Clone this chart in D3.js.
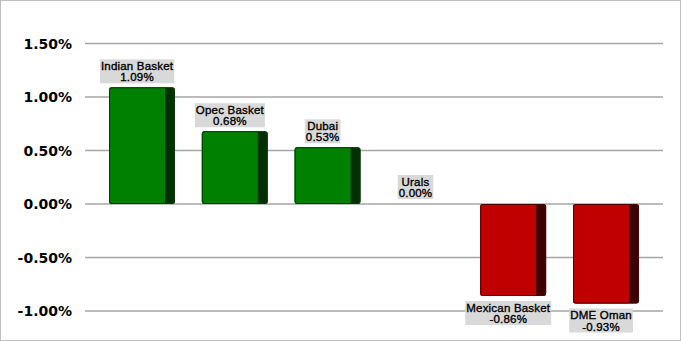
<!DOCTYPE html>
<html><head><meta charset="utf-8">
<script src="https://cdn.jsdelivr.net/npm/d3@7"></script>
<style>body{margin:0;background:#fff}svg{display:block}</style>
</head><body>
<svg id="c" width="681" height="341"></svg>
<script>
const categories = ["Indian Basket","Opec Basket","Dubai","Urals","Mexican Basket","DME  Oman"];
const values = [1.09, 0.68, 0.53, 0.00, -0.86, -0.93];
const tickValues = [-1.0, -0.5, 0.0, 0.5, 1.0, 1.5];

const pct = v => d3.format(".2f")(v).replace("\u2212","-") + "%";

const svg = d3.select("#c");
svg.append("rect").attr("x",0.5).attr("y",0.5).attr("width",680).attr("height",340)
  .attr("fill","#fff").attr("stroke","#bfbfbf");

const y = d3.scaleLinear().domain([-1, 1.5]).range([311, 43.5]);
const x = d3.scaleBand().domain(categories).range([95.6, 652.4]).paddingInner(0.29).paddingOuter(0.145);

// grid
svg.append("g").selectAll("line").data(tickValues).join("line")
  .attr("x1",85).attr("x2",663).attr("y1",d=>y(d)).attr("y2",d=>y(d))
  .attr("stroke","#a6a6a6").attr("stroke-width",1.3);

// y tick labels
svg.append("g").selectAll("text").data(tickValues).join("text")
  .attr("x",72).attr("y",d=>y(d)).attr("dy","0.36em").attr("text-anchor","end")
  .attr("font-family","DejaVu Sans, Verdana, sans-serif").attr("font-weight","bold")
  .attr("font-size",14).attr("fill","#000")
  .text(d=>pct(d));

const data = categories.map((c,i)=>({c, v: values[i]}));
const bw = x.bandwidth();
const fw = bw*0.85;

const bars = svg.append("g").selectAll("g").data(data.filter(d=>d.v!==0)).join("g");
bars.append("rect")
  .attr("x",d=>x(d.c)).attr("width",bw)
  .attr("y",d=>Math.min(y(d.v),y(0))).attr("height",d=>Math.abs(y(d.v)-y(0)))
  .attr("rx",2.5)
  .attr("fill",d=>d.v>0?"#003000":"#3c0000");
bars.append("rect")
  .attr("x",d=>x(d.c)).attr("width",fw)
  .attr("y",d=>Math.min(y(d.v),y(0))).attr("height",d=>Math.abs(y(d.v)-y(0)))
  .attr("rx",2)
  .attr("fill",d=>d.v>0?"#008000":"#c00000");
bars.append("rect")
  .attr("x",d=>x(d.c)+0.5).attr("width",bw-1)
  .attr("y",d=>Math.min(y(d.v),y(0))+0.5).attr("height",d=>Math.abs(y(d.v)-y(0))-1)
  .attr("rx",2.5).attr("fill","none")
  .attr("stroke",d=>d.v>0?"#004000":"#500000").attr("stroke-width",1);

// labels
const lg = svg.append("g").selectAll("g").data(data).join("g");
lg.each(function(d){
  const g = d3.select(this);
  const cx = x(d.c) + fw/2;
  const mk = s => g.append("text").attr("text-anchor","middle").attr("x",cx)
    .attr("font-family","Liberation Sans, Arial, sans-serif").attr("font-size",11.5)
    .attr("fill","#000").attr("stroke","#000").attr("stroke-width",0.35)
    .attr("letter-spacing",0.2).text(s);
  const t1 = mk(d.c);
  const t2 = mk(pct(d.v));
  const w = Math.max(t1.node().getComputedTextLength(), t2.node().getComputedTextLength()) + 2;
  const h = 24;
  let top;
  if (d.v > 0) top = y(d.v) - 4 - h;
  else if (d.v === 0) top = y(0) - 5 - h;
  else top = y(d.v) + 5;
  g.insert("rect","text").attr("x",cx-w/2).attr("y",top).attr("width",w).attr("height",h).attr("fill","#d9d9d9");
  t1.attr("y",top+10.5);
  t2.attr("y",top+22);
});
</script>
</body></html>
